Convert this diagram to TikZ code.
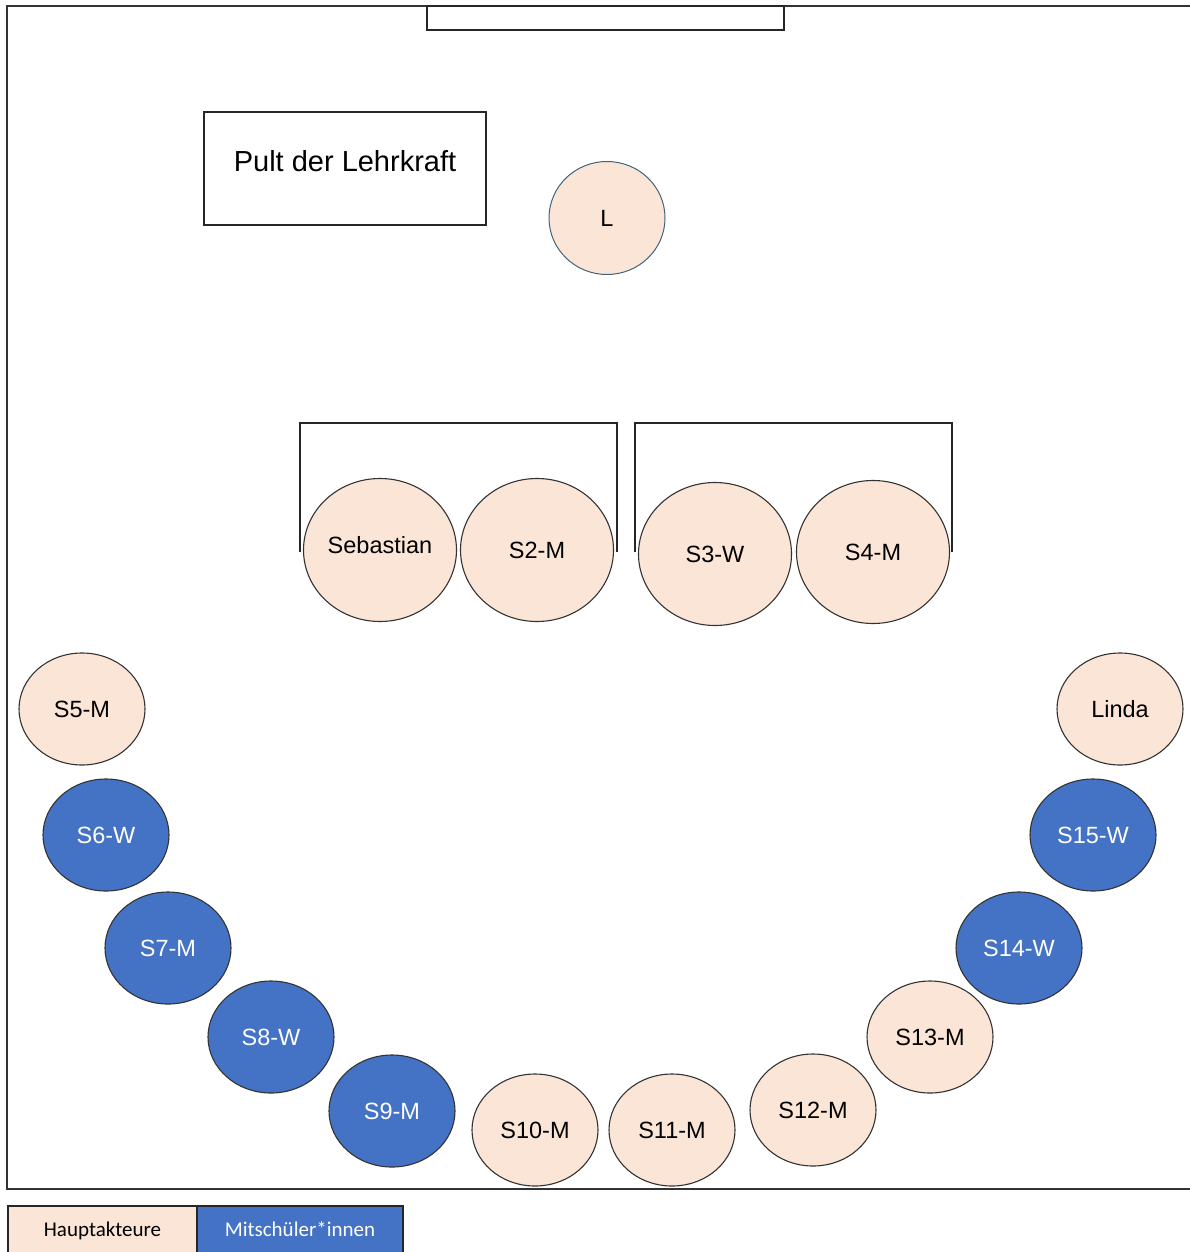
\documentclass[tikz,border=0pt]{standalone}
\usepackage{fontspec}
\setmainfont{Liberation Sans}
\newfontfamily\legendfont{Carlito}
\usetikzlibrary{shapes.geometric}

\definecolor{peach}{HTML}{FBE5D6}
\definecolor{mitblau}{HTML}{4472C4}
\definecolor{lrand}{HTML}{41637A}

\begin{document}
\begin{tikzpicture}[x=1pt, y=-1pt,
		wand/.style={line width=1.4pt, draw=black!80},
		tisch/.style={line width=1.1pt, draw=black!85},
		gross/.style={draw=black!80, line width=1.1pt, ellipse, fill=peach, minimum width=153pt, minimum height=143pt, inner sep=0pt, font=\fontsize{23.5}{26}\selectfont},
		klein/.style={draw=black!80, line width=1.1pt, ellipse, fill=peach, minimum width=126pt, minimum height=112pt, inner sep=0pt, font=\fontsize{23.5}{26}\selectfont},
		blau/.style={klein, fill=mitblau, text=white},
		legende/.style={draw=black!85, line width=1.6pt, rectangle, minimum height=50pt, inner sep=0pt, text height=14pt, text depth=4pt, font=\legendfont\fontsize{21}{24}\selectfont}]
				\useasboundingbox (0,0) rectangle (1190,1252);
				
				% Raum und Tafel
				\draw[wand] (1195,6) -- (7,6) -- (7,1189) -- (1195,1189);
				\node[tisch, rectangle, minimum width=357pt, minimum height=24pt] (tafel) at (605.5,18) {};
				\node[tisch, rectangle, minimum width=282pt, minimum height=113pt, text height=21pt, text depth=14pt, font=\fontsize{29}{32}\selectfont] (pult) at (345,168.5) {Pult der Lehrkraft};
				\node[draw=lrand, line width=1pt, ellipse, fill=peach, minimum width=116pt, minimum height=113pt, inner sep=0pt, font=\fontsize{23.5}{26}\selectfont] (L) at (607,218) {L};
				
				% Tische vorne
				\draw[tisch] (300,552) -- (300,423) -- (617,423) -- (617,552);
				\draw[tisch] (635,552) -- (635,423) -- (952,423) -- (952,552);
				\node[gross, text depth=10pt] (sebastian) at (380,550) {Sebastian};
				\node[gross] (s2) at (537,550) {S2-M};
				\node[gross] (s3) at (715,554) {S3-W};
				\node[gross] (s4) at (873,552) {S4-M};
				
				% Halbkreis
				\node[klein] (s5) at (82,709) {S5-M};
				\node[blau] (s6) at (106,835) {S6-W};
				\node[blau] (s7) at (168,948) {S7-M};
				\node[blau] (s8) at (271,1037) {S8-W};
				\node[blau] (s9) at (392,1111) {S9-M};
				\node[klein] (s10) at (535,1130) {S10-M};
				\node[klein] (s11) at (672,1130) {S11-M};
				\node[klein] (s12) at (813,1110) {S12-M};
				\node[klein] (s13) at (930,1037) {S13-M};
				\node[blau] (s14) at (1019,948) {S14-W};
				\node[blau] (s15) at (1093,835) {S15-W};
				\node[klein] (linda) at (1120,709) {Linda};
				
				% Legende
				\node[legende, fill=peach, minimum width=189pt] (haupt) at (102.5,1231) {Hauptakteure};
				\node[legende, fill=mitblau, text=white, minimum width=206pt] (mit) at (300,1231) {Mitschüler*innen};
			\end{tikzpicture}
\end{document}
